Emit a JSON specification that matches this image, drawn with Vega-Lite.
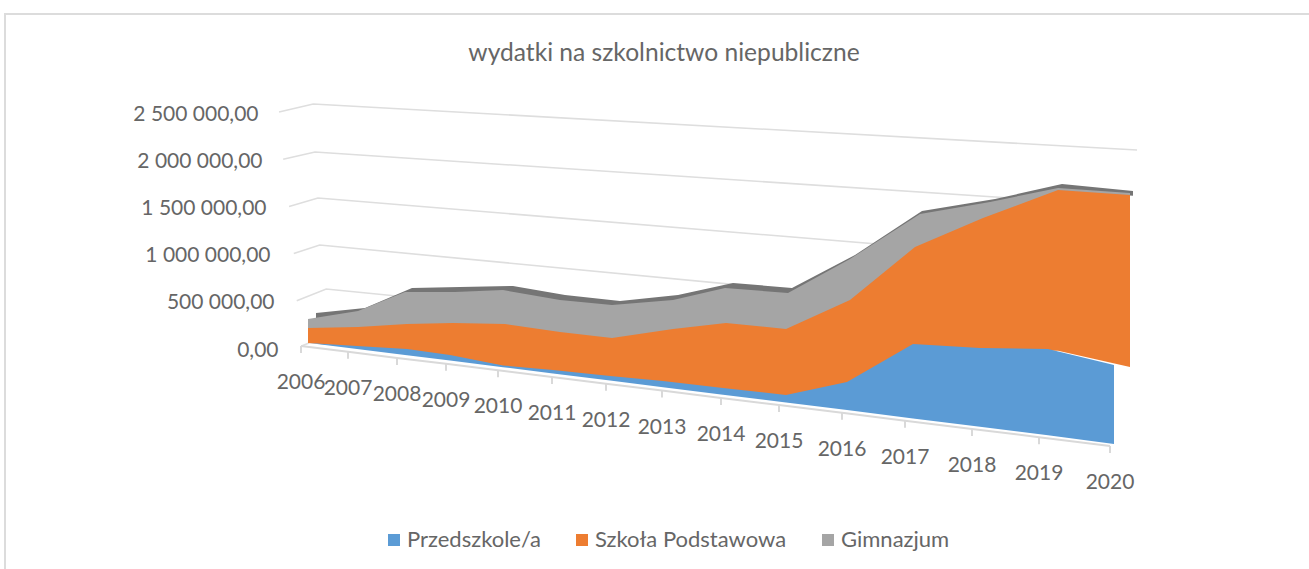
{
"$schema":"https://vega.github.io/schema/vega-lite/v6.json",
"autosize":{"type":"none"},
"padding":{"left":5,"top":14,"right":-6,"bottom":-5},
"width":1310,"height":560,
"background":"white",
"view":{"stroke":"#dcdcdc","strokeWidth":2,"fill":"white"},
"config":{"font":"Lato","locale":{"number":{"decimal":",","thousands":" ","grouping":[3],"currency":["",""]}}},
"title":{"text":"wydatki na szkolnictwo niepubliczne","font":"Lato","fontSize":24.6,"fontWeight":"normal","color":"#666666","anchor":"middle","frame":"group","offset":0,"dx":4,"dy":53},
"resolve":{"scale":{"x":"independent"},"axis":{"y":"independent"}},
"layer":[
{"data":{"values":[
{"level":2500000,"year":2005.39,"value":2500000},{"level":2500000,"year":2005.97,"value":2585000},{"level":2500000,"year":2019.95,"value":2097000},
{"level":2000000,"year":2005.46,"value":2000000},{"level":2000000,"year":2006,"value":2076000},{"level":2000000,"year":2019,"value":1539000},
{"level":1500000,"year":2005.56,"value":1500000},{"level":1500000,"year":2006.05,"value":1589000},{"level":1500000,"year":2018,"value":975000},
{"level":1000000,"year":2005.64,"value":1000000},{"level":1000000,"year":2006.08,"value":1091000},{"level":1000000,"year":2018,"value":381000},
{"level":500000,"year":2005.69,"value":500000},{"level":500000,"year":2006.19,"value":625000},{"level":500000,"year":2018,"value":-106000},
{"level":0,"year":2005.77,"value":21000},{"level":0,"year":2005.9,"value":53000}
]},
"mark":{"type":"line","color":"#dedede","strokeWidth":1.6},
"encoding":{
"x":{"field":"year","type":"quantitative","axis":null,"scale":{"domain":[2006,2020],"range":[310,1135],"nice":false,"zero":false}},
"y":{"field":"value","type":"quantitative","title":null,"scale":{"domain":[0,2500000],"range":[334,98],"nice":false,"zero":false},
"axis":{"orient":"left","offset":-273,"values":[0,500000,1000000,1500000,2000000,2500000],"format":",.2f","domain":false,"ticks":false,"grid":false,"labelFont":"Lato","labelFontSize":21,"labelColor":"#666666","labelOffset":2,
"labelPadding":{"condition":[{"test":"datum.value==2500000","value":20},{"test":"datum.value==2000000","value":16},{"test":"datum.value==1500000","value":12},{"test":"datum.value==1000000","value":8},{"test":"datum.value==500000","value":4}],"value":0}}},
"detail":{"field":"level"},
"order":{"field":"year"}
}},
{"data":{"name":"floor","values":[
{"year":2006,"floor":21000},{"year":2007,"floor":-40000},{"year":2008,"floor":-105000},{"year":2009,"floor":-168000},{"year":2010,"floor":-236000},{"year":2011,"floor":-307000},{"year":2012,"floor":-378000},{"year":2013,"floor":-451000},{"year":2014,"floor":-529000},{"year":2015,"floor":-605000},{"year":2016,"floor":-687000},{"year":2017,"floor":-770000},{"year":2018,"floor":-857000},{"year":2019,"floor":-945000},{"year":2020,"floor":-1038000}
]},
"encoding":{
"x":{"field":"year","type":"quantitative","axis":null,"scale":{"domain":[2006,2007,2008,2009,2010,2011,2012,2013,2014,2015,2016,2017,2018,2019,2020],"range":[296,343,392,441,493,547,601,657,716,774,837,900,967,1034,1105],"nice":false,"zero":false}},
"y":{"field":"floor","type":"quantitative","title":null,"axis":null}
},
"layer":[
{"mark":{"type":"line","color":"#d9d9d9","strokeWidth":2}},
{"mark":{"type":"rule","color":"#d9d9d9","strokeWidth":2,"y2Offset":7},"encoding":{"y2":{"field":"floor"}}},
{"mark":{"type":"text","font":"Lato","fontSize":21,"color":"#666666","dy":37,"align":"center","baseline":"middle"},"encoding":{"text":{"field":"year","type":"nominal"}}}
]},
{"data":{"name":"dark","values":[
{"year":2006,"low":277000,"high":371000},{"year":2007,"low":362000,"high":424000},{"year":2008,"low":563000,"high":636000},{"year":2009,"low":563000,"high":646000},{"year":2010,"low":584000,"high":657000},{"year":2011,"low":478000,"high":561000},{"year":2012,"low":426000,"high":498000},{"year":2013,"low":478000,"high":561000},{"year":2014,"low":606000,"high":689000},{"year":2015,"low":553000,"high":636000},{"year":2016,"low":913000,"high":985000},{"year":2017,"low":1389000,"high":1451000},{"year":2018,"low":1517000,"high":1578000},{"year":2019,"low":1665000,"high":1737000},{"year":2020,"low":1612000,"high":1663000}
]},
"mark":{"type":"area","color":"#757575","opacity":1},
"encoding":{
"x":{"field":"year","type":"quantitative","axis":null,"scale":{"domain":[2006,2007,2008,2009,2010,2011,2012,2013,2014,2015,2016,2017,2018,2019,2020],"range":[311,360,407,455,508,560,615,673,728,787,850,917,990,1057,1128],"nice":false,"zero":false}},
"y":{"field":"high","type":"quantitative","title":null,"axis":null,"stack":null},
"y2":{"field":"low"}
}},
{"data":{"values":[
{"series":"Gimnazjum","year":2006,"low":182000,"high":307000},{"series":"Gimnazjum","year":2007,"low":192000,"high":392000},{"series":"Gimnazjum","year":2008,"low":224000,"high":593000},{"series":"Gimnazjum","year":2009,"low":235000,"high":593000},{"series":"Gimnazjum","year":2010,"low":224000,"high":614000},{"series":"Gimnazjum","year":2011,"low":139000,"high":508000},{"series":"Gimnazjum","year":2012,"low":76000,"high":456000},{"series":"Gimnazjum","year":2013,"low":171000,"high":508000},{"series":"Gimnazjum","year":2014,"low":235000,"high":636000},{"series":"Gimnazjum","year":2015,"low":171000,"high":583000},{"series":"Gimnazjum","year":2016,"low":478000,"high":943000},{"series":"Gimnazjum","year":2017,"low":1040000,"high":1419000},{"series":"Gimnazjum","year":2018,"low":1347000,"high":1547000},{"series":"Gimnazjum","year":2019,"low":1644000,"high":1695000},{"series":"Gimnazjum","year":2020,"low":1591000,"high":1642000}
]},
"mark":{"type":"area","opacity":1},
"encoding":{
"x":{"field":"year","type":"quantitative","axis":null,"scale":{"domain":[2006,2007,2008,2009,2010,2011,2012,2013,2014,2015,2016,2017,2018,2019,2020],"range":[303,353,400,450,498,555,607,668,720,783,845,915,985,1053,1125],"nice":false,"zero":false}},
"y":{"field":"high","type":"quantitative","title":null,"axis":null,"stack":null},
"y2":{"field":"low"},
"color":{"field":"series","type":"nominal","scale":{"domain":["Przedszkole/a","Szkoła Podstawowa","Gimnazjum"],"range":["#5b9bd5","#ed7d31","#a5a5a5"]},
"legend":{"title":null,"orient":"none","legendX":378,"legendY":515,"direction":"horizontal","symbolType":"square","symbolSize":144,"symbolStrokeWidth":0,"symbolOpacity":1,"labelFont":"Lato","labelFontSize":22,"labelColor":"#666666","labelOffset":2,"labelLimit":400,"columnPadding":30}}
}},
{"data":{"values":[
{"series":"Szkoła Podstawowa","year":2006,"low":53000,"high":212000},{"series":"Szkoła Podstawowa","year":2007,"low":5000,"high":222000},{"series":"Szkoła Podstawowa","year":2008,"low":-30000,"high":254000},{"series":"Szkoła Podstawowa","year":2009,"low":-90000,"high":265000},{"series":"Szkoła Podstawowa","year":2010,"low":-195000,"high":254000},{"series":"Szkoła Podstawowa","year":2011,"low":-250000,"high":169000},{"series":"Szkoła Podstawowa","year":2012,"low":-315000,"high":106000},{"series":"Szkoła Podstawowa","year":2013,"low":-370000,"high":201000},{"series":"Szkoła Podstawowa","year":2014,"low":-445000,"high":265000},{"series":"Szkoła Podstawowa","year":2015,"low":-518000,"high":201000},{"series":"Szkoła Podstawowa","year":2016,"low":-380000,"high":508000},{"series":"Szkoła Podstawowa","year":2017,"low":22000,"high":1070000},{"series":"Szkoła Podstawowa","year":2018,"low":-20000,"high":1377000},{"series":"Szkoła Podstawowa","year":2019,"low":-30000,"high":1674000},{"series":"Szkoła Podstawowa","year":2020,"low":-200000,"high":1621000}
]},
"mark":{"type":"area","opacity":1},
"encoding":{
"x":{"field":"year","type":"quantitative","axis":null,"scale":{"domain":[2006,2007,2008,2009,2010,2011,2012,2013,2014,2015,2016,2017,2018,2019,2020],"range":[303,353,402,448,500,555,607,668,721,781,845,910,978,1053,1125],"nice":false,"zero":false}},
"y":{"field":"high","type":"quantitative","title":null,"axis":null,"stack":null},
"y2":{"field":"low"},
"color":{"field":"series","type":"nominal"}
}},
{"data":{"values":[
{"series":"Przedszkole/a","year":2006,"low":53000,"high":53000},{"series":"Przedszkole/a","year":2007,"low":-11000,"high":21000},{"series":"Przedszkole/a","year":2008,"low":-76000,"high":-11000},{"series":"Przedszkole/a","year":2009,"low":-133000,"high":-74000},{"series":"Przedszkole/a","year":2010,"low":-203000,"high":-185000},{"series":"Przedszkole/a","year":2011,"low":-270000,"high":-233000},{"series":"Przedszkole/a","year":2012,"low":-345000,"high":-297000},{"series":"Przedszkole/a","year":2013,"low":-415000,"high":-350000},{"series":"Przedszkole/a","year":2014,"low":-495000,"high":-424000},{"series":"Przedszkole/a","year":2015,"low":-577000,"high":-498000},{"series":"Przedszkole/a","year":2016,"low":-658000,"high":-360000},{"series":"Przedszkole/a","year":2017,"low":-746000,"high":42000},{"series":"Przedszkole/a","year":2018,"low":-834000,"high":0},{"series":"Przedszkole/a","year":2019,"low":-924000,"high":-11000},{"series":"Przedszkole/a","year":2020,"low":-1017000,"high":-180000}
]},
"mark":{"type":"area","opacity":1},
"encoding":{
"x":{"field":"year","type":"quantitative","axis":null,"scale":{"domain":[2006,2007,2008,2009,2010,2011,2012,2013,2014,2015,2016,2017,2018,2019,2020],"range":[304,352,402,445,498,548,605,658,718,781,842,908,975,1043,1109],"nice":false,"zero":false}},
"y":{"field":"high","type":"quantitative","title":null,"axis":null,"stack":null},
"y2":{"field":"low"},
"color":{"field":"series","type":"nominal"}
}}
]
}
